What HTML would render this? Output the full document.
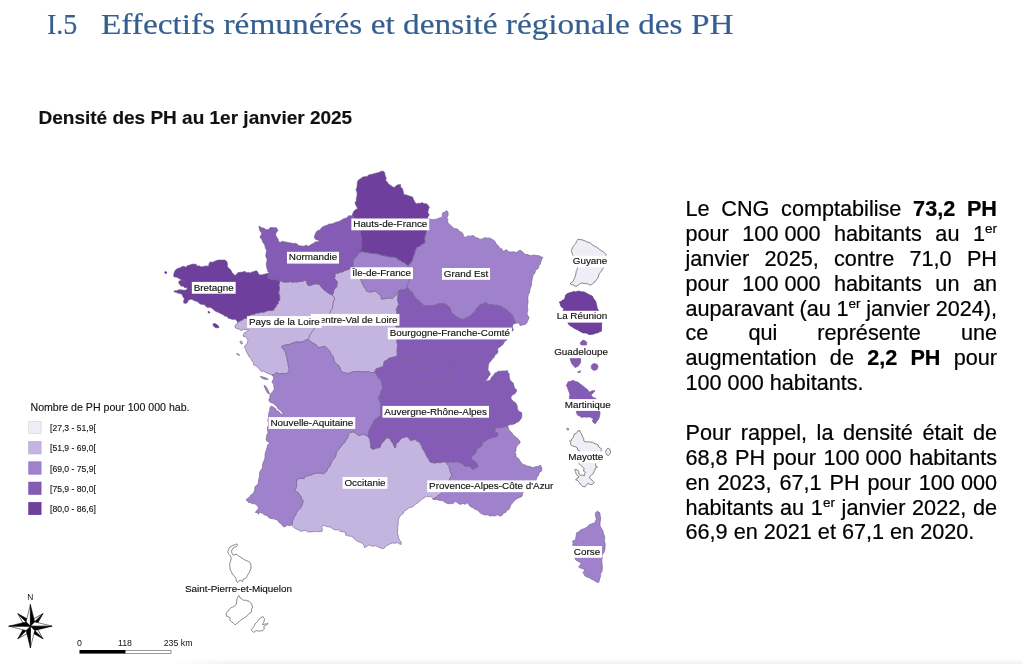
<!DOCTYPE html>
<html lang="fr"><head><meta charset="utf-8"><title>I.5 Effectifs rémunérés et densité régionale des PH</title>
<style>
html,body{margin:0;padding:0;background:#fff;}
body{width:1023px;height:664px;position:relative;overflow:hidden;font-family:"Liberation Sans",Arial,sans-serif;}
h1{position:absolute;left:0;top:0;margin:0;font-family:"Liberation Serif","Times New Roman",serif;font-weight:normal;font-size:29.5px;line-height:40px;color:#365f91;white-space:pre;}
h1 span{position:absolute;top:3.7px;}
h1 .n{left:46.5px;transform-origin:0 0;transform:scaleX(0.95);-webkit-text-stroke:0.2px #365f91;}
h1 .t{left:100.5px;transform-origin:0 0;transform:scaleX(1.13);-webkit-text-stroke:0.2px #365f91;}
h2{position:absolute;left:38.5px;top:103px;margin:0;font-size:19px;line-height:30px;font-weight:bold;color:#111;white-space:nowrap;-webkit-text-stroke:0.15px #111;}
.txt{position:absolute;left:685.5px;top:197.0px;width:311.5px;font-size:21.65px;line-height:24.88px;color:#000;-webkit-text-stroke:0.22px #000;}
.txt div{text-align:justify;text-align-last:justify;white-space:nowrap;height:24.88px;}
.txt div.l{text-align-last:left;}
.txt .nb{display:inline-block;white-space:pre;}
.txt sup{font-size:13.5px;line-height:0;vertical-align:baseline;position:relative;top:-8px;}
.shadow{position:absolute;left:170px;right:0;bottom:0;height:6px;background:linear-gradient(to bottom,rgba(0,0,0,0),rgba(0,0,0,0.05));-webkit-mask-image:linear-gradient(to right,transparent,#000 60px);mask-image:linear-gradient(to right,transparent,#000 60px);}
</style></head><body>
<h1><span class="n">I.5</span><span class="t">Effectifs rémunérés et densité régionale des PH</span></h1>
<h2>Densité des PH au 1er janvier 2025</h2>
<svg width="1023" height="664" viewBox="0 0 1023 664" style="position:absolute;left:0;top:0">
<g stroke="#6f6088" stroke-width="0.6" stroke-linejoin="round">
<polygon fill="#c3b4e0" points="352.8,267.6 354,269.44 354.8,271.52 356.93,272.76 357.5,275 358.85,276.85 360.44,278.55 361.25,280.75 361.9,282.51 362.5,284.29 363.75,285.75 364.29,287.57 365.9,288.84 366.25,290.75 368.07,291.55 370,292 372.08,291.8 374.12,291.07 376.25,291.4 377.8,293.34 380,294.5 381.29,296.51 381.25,298.9 383.8,298.93 386.25,298.25 388.33,298.09 390.42,298.09 392.5,298.25 394.34,296.58 396.25,295 396.88,292.51 398.75,290.75 398.39,292.93 398.01,295.11 397.96,297.33 397.5,299.5 398.14,302 398.75,304.5 397.76,306.09 397.08,307.83 396.25,309.5 396.94,311.31 396.9,313.25 396.56,315.59 396.1,317.92 395.95,320.27 395.52,322.6 396,325 396.27,327.52 397.04,329.96 397.23,332.48 397.5,335 396.79,336.81 397.27,338.75 396.9,340.6 397.11,343.06 397.79,345.5 397.3,348 397.08,350.34 397.07,352.68 397.5,355 396.25,356.25 394.23,357.05 392.07,357.38 390,358 388.05,358.94 386.4,360.4 384.4,361.25 383.87,363.17 383.62,365.18 382.5,366.9 380.4,367.46 378.35,368.19 376.25,368.75 375.3,370.41 375,372.3 372.8,372.48 370.6,372.6 368.46,371.5 366.25,371.9 363.76,371.57 361.19,372.16 358.75,371.25 356.71,371.88 354.56,371.48 352.5,371.9 350.9,372.71 349.16,373.12 347.5,373.75 345.34,372.8 343,372.5 341.59,371.08 340.39,369.54 340,367.5 338.65,365.52 336.64,364.19 335,362.5 333.94,360.28 333.46,357.86 332.5,355.6 330.88,353.98 330.03,351.84 328.75,350 326.93,348.19 325,346.5 322.86,346.75 320.79,347.31 318.75,348 317.65,346.38 316.25,345 314.62,343.91 312.84,343.05 311.25,341.9 309.64,340.92 308.3,339.6 309.2,337.7 309.45,335.55 310.6,333.75 311.58,332.04 312.98,330.59 313.75,328.75 315.64,327.01 318,326 319.68,324.68 321.12,323.12 322.81,321.81 324,320 325.33,318.01 327.41,316.63 328.77,314.67 330,312.6 330.96,310.26 332.5,308.25 332.71,305.75 333,303.25 333.75,300.76 334.4,298.25 333.55,296.49 332,295.3 333.29,293.18 333.75,290.75 334.29,288.93 335.83,287.84 336.9,286.4 336.83,284.15 337.5,282 335.89,280.17 334.4,278.25 335,276.42 335,274.5 336.34,273.02 338.66,273.48 340,272 342.3,272 344.21,270.8 346.25,270 348.53,269.47 350.65,268.49"/>
<polygon fill="#c3b4e0" points="279.5,280.6 281.69,281.35 283.86,282.17 286.25,281.9 288.2,282.18 290,281.4 292.44,282.32 295,281.83 297.5,282 300.01,281.36 302.69,281.36 305,280 306.75,281.59 307.02,284.14 308.75,285.75 310.87,285.25 312.92,284.52 315,283.9 317.53,283.96 320,284.5 320.67,286.19 321.73,287.62 323,288.9 324.45,290.19 326.05,291.3 327.5,292.6 328.93,293.61 330.76,293.96 332,295.3 333.55,296.49 334.4,298.25 333.75,300.76 333,303.25 332.71,305.75 332.5,308.25 330.96,310.26 330,312.6 328.77,314.67 327.41,316.63 325.33,318.01 324,320 322.81,321.81 321.12,323.12 319.68,324.68 318,326 315.64,327.01 313.75,328.75 312.98,330.59 311.58,332.04 310.6,333.75 309.45,335.55 309.2,337.7 308.3,339.6 306.2,339.93 304.38,341 302.5,341.9 300.42,342.04 298.33,342.11 296.25,341.9 294.12,342.61 291.98,343.3 290,344.4 287.87,344.39 285.86,344.94 283.84,345.43 281.9,346.25 282.32,348.3 284.27,349.4 285,351.25 285.86,352.83 285.73,354.79 286.9,356.25 287.09,358.36 287.22,360.49 288,362.5 288.18,365.05 288.8,367.52 289.4,370 288.5,371.53 287.5,373 285.49,373.89 283.32,373.42 281.25,373.75 278.59,373.75 276.25,372.5 274.43,374.37 271.9,375 269.67,374.08 267.5,373 265.5,372.57 263.95,370.99 261.56,371.54 260,370 258.79,368.3 257.37,366.88 255.75,365.7 253.75,365 253.53,362.67 251.95,360.89 251.25,358.75 249.29,357.02 248.1,354.76 246.9,352.5 245.93,350.9 245.64,348.96 244.4,347.5 245.12,345.52 246.9,344.4 247.46,342.2 248,340 246.69,338.27 245.26,336.71 243,336.25 243.33,334.99 243.75,333.75 245.16,332.16 247.22,331.43 248.75,330 246.21,329.71 243.67,329.41 241.25,330.6 239.35,329.19 237.01,328.69 235,327.5 235.02,325.3 237.16,324.06 237.5,322 239.26,321.57 240.79,320.57 242.5,320 243.89,318.6 245.83,318.33 247.5,317.5 249.12,316.39 250.45,314.82 252.5,314.4 254.62,314.08 256.58,313.06 258.75,313 261.21,312.26 263.86,312.3 266.25,311.25 268.68,310.42 271.28,310.61 273.75,310 274.32,308.2 276.06,306.99 276.25,305 278.07,303.76 278.21,301.26 280,300 279.5,297.93 279.77,295.71 278.75,293.75 278.8,291.65 279.32,289.6 279.4,287.5 278.85,285.19 279.47,282.9"/>
<polygon fill="#c3b4e0" points="433,499.4 432.14,497.57 430.6,496.25 429.05,496.93 427.5,496.25 425.63,496.67 424.22,498.02 422.5,498.75 420.92,500.26 419.24,501.67 417.5,503 415.71,504.15 414.17,505.6 412.5,506.9 410.61,507.41 408.75,508 407.19,509.24 405.57,510.4 403.75,511.25 403.29,513.51 401.48,514.75 400,516.25 399.1,517.82 398.49,519.51 398,521.25 398.44,523.35 397.83,525.42 397.75,527.5 397.75,530 397.4,532.52 398,535 398.63,537.52 399.4,540 401.24,541.82 401.25,544.4 399.2,543.8 397.5,542.5 395.05,543.22 392.5,543 390.33,543.66 388.41,544.92 386.25,545.6 385,547.5 382.91,548.73 380.6,548 378.76,547.15 376.93,546.26 375,545.6 372.82,546.39 370.8,545.59 368.75,545 366.76,546.57 364.4,547.5 363.92,545.23 362.65,543.57 360.6,542.5 358.39,541.63 356.25,540.6 354.82,539.31 353.26,538.12 352.5,536.25 349.95,536.34 347.5,535.6 345.6,535.03 345.65,532.47 343.75,531.9 341.86,531.68 340,531.25 338.3,529.68 336,530 334.03,529.46 332.22,528.53 330.59,527.16 328.5,526.9 326.61,526.56 324.85,525.67 322.9,525.6 321.73,527.37 322.38,529.36 322.25,531.25 320.17,531.56 318.08,531.68 316,531.25 313.52,531.71 311,531.9 308.3,532.01 306,530.6 304.1,530.51 302.27,531.02 300.4,531.25 298.3,529.82 296,528.75 294.24,527.84 292.88,526.47 291.6,525 292.36,523.2 292.25,521.25 293.08,519.58 293.69,517.8 294.75,516.25 295.79,514.36 296.62,512.35 297.9,510.6 299.38,508.98 301,507.5 301.65,505.64 302.5,503.85 302.9,501.9 302.72,499.86 301.21,498.28 301,496.25 299.47,494.84 298.5,493 296.55,491.92 294.75,490.6 295.62,488.82 296.28,486.96 296.6,485 296.47,482.8 296.76,480.69 297.9,478.75 299.97,478.48 302.03,478.37 304.1,478.75 304.75,476.25 306.89,476.13 308.88,475.25 311,475 313.03,474.15 315.07,473.37 317.25,473 319.36,473.06 321.46,473.12 323.5,473.75 325,472.5 326.62,471.23 327.36,469.26 328.34,467.49 330,466.25 330.62,464.21 331.38,462.25 332.48,460.46 333.75,458.75 335.25,456.93 335.95,454.8 336.25,452.5 337.39,450.85 338.69,449.32 339.96,447.78 341.25,446.25 341.96,444.34 343.86,443.45 345,441.9 345.87,439.95 347.27,438.28 348,436.25 348.7,434.22 350,432.5 352.15,431.86 354.4,431.9 355.65,433.37 357.25,434.42 358.75,435.6 361.18,434.69 363.75,434.4 365.82,435.35 368,436 368.5,437.81 370.01,439.24 370,441.25 370.46,443.31 370.67,445.39 370.6,447.5 371.78,448.22 372.5,449.4 374.96,448.63 377.42,447.83 380,447.5 380.58,445.71 381.17,443.92 382.5,442.5 383.88,441.11 385.08,439.56 386.25,438 388.24,437.79 390,438.75 390.78,440.55 391.98,442.09 393,443.75 394.06,445.85 395,448 395.82,446.16 396.01,444.04 397.5,442.5 399.04,441.54 399.65,439.65 401.25,438.75 402.73,437.55 404.78,437.47 406.25,436.25 407.89,437.51 409.43,438.87 410.6,440.6 412.78,439.94 415,439.4 416.47,440.75 418.24,441.62 420,442.5 420.56,444.56 422,446.19 422.17,448.45 423.75,450 424.53,451.95 425.84,453.64 426.33,455.74 427.5,457.5 428.98,459.57 430,461.9 432.46,462.61 435,463 437.47,462.43 440.07,462.77 442.5,461.9 444.8,461.85 447,462.5 447.25,464.57 448.82,466.12 449.37,468.08 450,470 450.35,471.78 450.9,473.47 451.9,475 451.27,476.77 449.69,478.06 449.4,480 448.53,482.46 447.7,484.94 446,487 444.69,489.22 443.13,491.23 441.25,493 439.85,494.55 438.05,495.63 436.5,497 434.69,498.11"/>
<polygon fill="#9f82cb" points="271.9,375 273.33,376.63 273.75,378.75 272.59,380.51 271.9,382.5 273.71,383.94 273.75,386.25 274.35,388.9 273,391.25 271.45,393.09 270,395 269.8,397.61 268.75,400 270.01,402.26 272.5,403 274.13,404 275.44,405.41 277,406.5 277.75,408.52 279.42,409.72 281,411 282.57,413 283,415.5 281.21,414.04 279.5,412.5 278.36,410.98 276.13,410.53 275.5,408.5 273.56,407.16 271.5,406 269.8,407.5 269.84,410.05 268.94,412.47 268.59,414.97 268.5,417.5 267.76,419.96 268.31,422.52 268.57,425.05 267.27,427.47 267.5,430 268.1,432.65 266.8,435.01 266.38,437.5 266,440 267.75,441.65 270,442.5 268.94,443.94 267.5,445 267.07,447.55 266.31,450.01 265.4,452.44 265,455 264.98,457.67 264.25,460.15 263.15,462.54 262.5,465.04 262.44,467.71 261,470 259.57,472.3 259.62,474.97 259.19,477.52 258.5,480 258.35,482.23 257.86,484.32 255.84,485.85 254.78,487.73 254.75,490 253.91,492.02 252.76,493.82 250.82,495.04 249.75,496.9 247.64,498.17 246,500 247.41,501.09 248.5,502.5 250.51,502.71 252.25,503.75 254.22,503.55 255.75,504.54 257.25,505.6 258.22,507.04 258.5,508.75 256.69,510.41 255.4,512.5 257.44,512.65 258.5,514.4 258.75,512.75 260.4,512.5 262.69,513.54 264.75,515 266.85,515.48 268.37,517.14 270.09,518.38 272.25,518.75 274.2,518.85 275.99,519.69 277.9,520 278.06,521.46 279.1,522.5 280.85,523.68 282.26,525.2 283.5,526.9 285.63,526.45 287.25,525 289.43,525.71 291.6,525 292.36,523.2 292.25,521.25 293.08,519.58 293.69,517.8 294.75,516.25 295.79,514.36 296.62,512.35 297.9,510.6 299.38,508.98 301,507.5 301.65,505.64 302.5,503.85 302.9,501.9 302.72,499.86 301.21,498.28 301,496.25 299.47,494.84 298.5,493 296.55,491.92 294.75,490.6 295.62,488.82 296.28,486.96 296.6,485 296.47,482.8 296.76,480.69 297.9,478.75 299.97,478.48 302.03,478.37 304.1,478.75 304.75,476.25 306.89,476.13 308.88,475.25 311,475 313.03,474.15 315.07,473.37 317.25,473 319.36,473.06 321.46,473.12 323.5,473.75 325,472.5 326.62,471.23 327.36,469.26 328.34,467.49 330,466.25 330.62,464.21 331.38,462.25 332.48,460.46 333.75,458.75 335.25,456.93 335.95,454.8 336.25,452.5 337.39,450.85 338.69,449.32 339.96,447.78 341.25,446.25 341.96,444.34 343.86,443.45 345,441.9 345.87,439.95 347.27,438.28 348,436.25 348.7,434.22 350,432.5 352.15,431.86 354.4,431.9 355.65,433.37 357.25,434.42 358.75,435.6 361.18,434.69 363.75,434.4 365.82,435.35 368,436 368.69,433.67 368.75,431.25 369.44,429.51 370.96,428.19 371.25,426.25 372.01,424.54 373.5,423.21 373.75,421.25 374.9,419.69 376.53,418.69 378,417.5 380,416.25 380.78,414.22 380.35,412.08 380.6,410 380.29,407.42 381.25,405 380.49,402.89 379.66,400.8 378.75,398.75 378.84,396.89 379.84,395.36 380.6,393.75 380.79,391.53 382.33,389.72 382.5,387.5 382.2,385.39 381.73,383.32 381.25,381.25 380.45,379.24 378.6,378.03 377.5,376.25 376.54,374.09 375,372.3 372.8,372.48 370.6,372.6 368.46,371.5 366.25,371.9 363.76,371.57 361.19,372.16 358.75,371.25 356.71,371.88 354.56,371.48 352.5,371.9 350.9,372.71 349.16,373.12 347.5,373.75 345.34,372.8 343,372.5 341.59,371.08 340.39,369.54 340,367.5 338.65,365.52 336.64,364.19 335,362.5 333.94,360.28 333.46,357.86 332.5,355.6 330.88,353.98 330.03,351.84 328.75,350 326.93,348.19 325,346.5 322.86,346.75 320.79,347.31 318.75,348 317.65,346.38 316.25,345 314.62,343.91 312.84,343.05 311.25,341.9 309.64,340.92 308.3,339.6 306.2,339.93 304.38,341 302.5,341.9 300.42,342.04 298.33,342.11 296.25,341.9 294.12,342.61 291.98,343.3 290,344.4 287.87,344.39 285.86,344.94 283.84,345.43 281.9,346.25 282.32,348.3 284.27,349.4 285,351.25 285.86,352.83 285.73,354.79 286.9,356.25 287.09,358.36 287.22,360.49 288,362.5 288.18,365.05 288.8,367.52 289.4,370 288.5,371.53 287.5,373 285.49,373.89 283.32,373.42 281.25,373.75 278.59,373.75 276.25,372.5 274.43,374.37"/>
<polygon fill="#9f82cb" points="360,252 362.57,251.53 365.05,252.05 367.52,252.52 370,253 372.48,253.45 375.01,253.43 377.5,253.75 379.94,254.6 382.37,255.53 384.96,255.78 387.5,256.25 389.61,257.08 391.88,256.85 394.08,257.05 396.25,257.5 397.98,259.49 400.49,260.4 402.5,262 404.63,262.74 406.26,264.26 408,265.6 408.6,267.92 409.62,270.12 410,272.5 409.4,274.97 409.54,277.49 409.4,280 408.94,282.41 407.5,284.4 407.04,286.3 408,288 406.24,288.15 405,289.4 402.94,289.97 400.78,290.05 398.75,290.75 396.88,292.51 396.25,295 394.34,296.58 392.5,298.25 390.42,298.09 388.33,298.09 386.25,298.25 383.8,298.93 381.25,298.9 381.29,296.51 380,294.5 377.8,293.34 376.25,291.4 374.12,291.07 372.08,291.8 370,292 368.07,291.55 366.25,290.75 365.9,288.84 364.29,287.57 363.75,285.75 362.5,284.29 361.9,282.51 361.25,280.75 360.44,278.55 358.85,276.85 357.5,275 356.93,272.76 354.8,271.52 354,269.44 352.8,267.6 352.82,265.67 353,263.75 352.86,261.49 353.75,259.4 355.06,257.98 356.36,256.56 357.5,255 358.44,253.25"/>
<polygon fill="#9f82cb" points="428.8,219.2 430.43,219.15 432,219.6 433.89,219.7 435.69,219.16 437.5,218.75 439.17,217.93 441.06,217.54 442.5,216.25 442.16,214.3 443,212.5 444.96,212.13 446.25,210.6 448,211.9 448.15,213.87 447.93,215.76 446.9,217.5 447.86,219.48 447.59,221.83 448.75,223.75 450.59,225.37 452.5,226.9 454.01,228.56 456.25,228.75 458.17,229.4 459.22,231.43 461.25,231.9 462.99,233.54 463.37,236.24 465.6,237.5 467.53,235.92 470,236.25 471.85,235.76 473.75,235.6 475.44,237.51 477.93,238.12 480,239.4 481.71,238.89 483.51,238.59 485,237.5 487.04,238.15 489.25,237.9 491.25,238.75 493.15,239.97 495,241.25 495.8,243.25 497.16,244.84 498.75,246.25 499.72,248.13 502.04,248.99 502.5,251.25 504.63,250.83 506.25,249.4 507.59,250.89 509.14,251.95 511.25,251.9 513.81,251.72 516.25,252.5 518.18,251.33 520,250 521.99,251.36 523.75,253 525.05,254.59 527.09,254.31 528.75,255 531.2,255.8 533.78,254.98 536.25,255.6 538.7,255.51 540.82,256.63 543,257.5 541.75,258.95 541.33,260.8 540.6,262.5 540.35,264.3 538.79,265.62 538.75,267.5 537.47,269.14 535.46,270.24 535,272.5 534.34,274.02 533,275 532.8,277.11 532.12,279.14 531.9,281.25 531.45,283.33 531.47,285.51 530.6,287.5 529.83,289.54 529.85,291.81 528.75,293.75 528.07,295.78 527.75,297.86 528,300 528.06,302.52 527.57,304.99 527.5,307.5 527.87,309.64 527.56,311.71 526.9,313.75 527.87,315.67 529,317.5 528.41,319.44 527.5,321.25 526.69,323.17 525,324.4 522.52,325.08 520,325.6 519.46,323.61 517.5,323 515.5,323.3 515.05,321.2 514.08,319.33 513,317.5 512.51,315.45 511.25,313.75 509.32,312.6 507.69,311.12 506.25,309.4 504.54,308.43 502.53,307.91 501.25,306.25 498.66,305.99 496.25,305 494.17,305.72 492.08,304.28 490,305 488.19,304.46 486.69,303.28 485,302.5 483.43,304.04 481.25,304.4 479.31,305.53 477.8,307.17 476.25,308.75 475.44,310.92 473.75,312.5 472.37,313.62 471.06,314.81 470,316.25 468.09,316.96 466.17,317.65 464.5,318.92 462.5,319.4 460.8,318.86 459.02,318.53 457.5,317.5 455.88,316.19 454.26,314.87 452.5,313.75 451.18,311.86 450.56,309.69 450,307.5 447.94,306.18 446.25,304.4 444.19,303.98 442.12,303.6 440,303.75 437.76,303.84 435.83,304.96 433.75,305.6 431.25,305.63 428.75,305.75 426.25,305.62 423.75,305.6 422.19,303.67 420,302.5 418.74,300.42 416.72,299.11 415,297.5 414.21,295.81 412.95,294.36 412.5,292.5 410.76,291.24 409.36,289.64 408,288 407.04,286.3 407.5,284.4 408.94,282.41 409.4,280 409.54,277.49 409.4,274.97 410,272.5 409.62,270.12 408.6,267.92 408,265.6 409.69,264.1 410.84,262.12 412.5,260.6 412.57,258.66 413.23,256.84 413.75,255 414.75,253.25 414.93,251.23 415.88,249.46 416.25,247.5 418.14,246.91 420,246.25 421.23,244.42 423.29,243.69 425,242.5 424.83,240.6 424.4,238.75 424.97,236.24 425.77,233.78 426.25,231.25 426.23,229.08 427.19,227.1 427.5,225 428.37,223.17 428.48,221.16"/>
<polygon fill="#9f82cb" points="507.5,425.6 508.34,427.48 508.85,429.51 510,431.25 511.97,432.61 513.01,434.9 515,436.25 516.13,437.62 517.81,438.44 518.75,440 520.12,441.19 520,443 518.24,444.43 516.9,446.25 515.95,448.24 516.09,450.56 515,452.5 516.04,454.01 515.78,456.02 516.9,457.5 518.79,458.78 519.83,460.8 521.25,462.5 522.82,464.6 525.35,465.11 527.5,466.25 529.66,466.31 531.63,467.28 533.75,467.5 535.78,466.52 538.16,466.45 540,465 541.52,466.95 541.9,469.4 541.16,471.44 538.94,472.65 538.75,475 537.56,476.49 536.58,478.08 536.25,480 534.51,481.32 533.79,483.69 531.69,484.63 530,486 528.49,487.54 527.15,489.24 524.79,489.96 523.51,491.73 522.5,493.75 522.06,496.16 520,497.5 518.11,497.88 516.63,499.08 515,500 513.78,501.52 512.5,503 510.77,504.98 510,507.5 508.88,509.38 506.84,510.34 505.89,512.39 503.41,512.91 502.5,515 500.12,516.21 497.37,514.69 495,516 492.49,515.83 489.94,516.07 487.54,514.83 485,515 482.79,514.25 480.7,513.32 479.03,511.76 477.5,510 475.1,509.51 473.24,507.84 471,507 469.12,505.28 468,503 466.32,503.31 465,504.4 463.01,503.24 460.77,504.53 458.75,503.75 456.96,502.37 455,501.25 454.02,502.77 452.5,503.75 450.43,503.4 448.27,503.76 446.25,503 444.31,501.82 442.41,500.55 440,500.6 437.74,499.76 435.36,499.62 433,499.4 434.69,498.11 436.5,497 438.05,495.63 439.85,494.55 441.25,493 443.13,491.23 444.69,489.22 446,487 447.7,484.94 448.53,482.46 449.4,480 449.69,478.06 451.27,476.77 451.9,475 450.9,473.47 450.35,471.78 450,470 449.37,468.08 448.82,466.12 447.25,464.57 447,462.5 448.82,462.21 450.63,461.74 452.5,461.9 454.5,462.28 456.25,461.25 458.09,461.99 460,462.5 462.1,463.17 463.41,464.89 465,466.25 467.5,465.9 470,466.25 471.45,468.34 473.75,469.4 475.65,467.77 478,466.9 477.16,464.93 476.25,463 475.21,461.41 473.27,461.12 471.9,460 471.53,458.13 471.25,456.25 473.29,455.25 475,453.75 475.96,451.99 476.25,450 477.44,448.6 478.97,447.69 480.6,446.9 482.13,445.23 482.5,443 483.77,441.25 485.91,440.71 487.5,439.4 489.06,438.48 490.81,438.06 492.5,437.5 495.02,436.94 497.5,436.25 497.57,434.6 498,433 495.82,432.37 494.4,430.6 495.37,429.19 495.6,427.5 497.9,427.86 500.2,427.7 502.5,427.5 504.07,426.6 506.08,426.87"/>
<polygon fill="#855cb5" points="352.5,214.4 351.28,216.12 348.93,215.6 347.5,216.9 346.15,218.37 344.05,218.4 342.5,219.5 340.71,220.46 338.97,221.56 336.94,221.92 335,222.5 333.25,223.49 331.32,223.96 329.21,223.88 327.5,225 325.26,225.68 323.11,226.53 321.25,228 320.19,230.08 317.76,230.4 316.25,231.9 315.29,234.06 314.4,236.25 314.55,238 315.6,239.4 317.93,240.03 320,241.25 317.53,241.78 315,241.9 313.98,243.13 312.5,243.75 310.51,244.83 308.75,246.25 306.25,245.26 303.75,246.25 301.58,245.92 299.37,245.73 297.5,244.4 295.6,243.13 293.31,243.57 291.25,243 289.15,242.73 287.09,242.2 285,241.9 282.4,241.37 280,242.5 278.46,240.91 278,238.75 276.41,236.79 275.6,234.4 276.48,232.3 278,230.6 277.12,229.05 276.25,227.5 274.38,227.85 272.5,227.5 270.18,227.57 268.75,229.4 265.98,229.65 263.75,228 261.89,227.98 260.43,226.78 258.75,226.25 259.22,227.8 259.4,229.4 260.04,231.12 261.25,232.5 261.56,234.69 260,236.25 260.51,238.08 261.89,239.47 262.5,241.25 263.16,243 264.56,244.39 265,246.25 265.37,248.34 266.54,250.28 266.25,252.5 265.77,254.66 265.81,256.76 266.9,258.75 267.07,260.87 266.36,262.91 266.25,265 266.73,267.54 267.5,270 267.91,271.84 269.4,273 268.42,274.98 267.5,277 268.52,278.2 270,278.75 271.96,279.38 274,279.6 275.82,279.98 277.65,280.37 279.5,280.6 281.69,281.35 283.86,282.17 286.25,281.9 288.2,282.18 290,281.4 292.44,282.32 295,281.83 297.5,282 300.01,281.36 302.69,281.36 305,280 306.75,281.59 307.02,284.14 308.75,285.75 310.87,285.25 312.92,284.52 315,283.9 317.53,283.96 320,284.5 320.67,286.19 321.73,287.62 323,288.9 324.45,290.19 326.05,291.3 327.5,292.6 328.93,293.61 330.76,293.96 332,295.3 333.29,293.18 333.75,290.75 334.29,288.93 335.83,287.84 336.9,286.4 336.83,284.15 337.5,282 335.89,280.17 334.4,278.25 335,276.42 335,274.5 336.34,273.02 338.66,273.48 340,272 342.3,272 344.21,270.8 346.25,270 348.53,269.47 350.65,268.49 352.8,267.6 352.82,265.67 353,263.75 352.86,261.49 353.75,259.4 355.06,257.98 356.36,256.56 357.5,255 358.44,253.25 360,252 360.93,249.64 362.3,247.5 361.62,245.03 361.31,242.54 361.9,240 361.72,237.63 360.94,235.34 360.76,232.97 360.6,230.6 359.47,228.54 358.94,226.28 358.5,224 356.9,222.5 356.81,220.16 355.5,218.5 353.66,216.7"/>
<polygon fill="#855cb5" points="515.5,323.3 513.31,324.07 512.5,326.25 512.68,328.21 513.5,330 512.19,331.21 511.03,332.54 510,334 509.38,335.78 508.32,337.33 507.5,339 506.26,340.51 504.45,341.54 503.65,343.42 502.5,345 501.06,346.09 499.61,347.17 498,348 497.65,349.92 498.05,351.98 496.9,353.75 494.98,355.02 494.18,357.27 492.5,358.75 491.35,360.49 489.85,361.97 488.75,363.75 488.33,365.81 488.14,367.9 488,370 486.25,371.9 485.33,373.71 483.75,375 481.89,375.68 480.32,376.83 478.75,378 477.21,376.8 475.5,375.87 473.75,375 472.46,375.9 471.25,376.9 469.86,375.11 468.37,373.46 466.25,372.5 465.01,370.85 463,370.15 461.56,368.76 460,367.5 458.19,366.78 456.28,367.02 454.4,366.9 453.39,368.79 452.85,370.95 451.25,372.5 450.76,375.03 450.37,377.59 449.04,379.92 448.75,382.5 447.33,380.96 446.67,378.85 445,377.5 442.48,377.33 439.96,377.21 437.5,378 436.79,379.95 435.55,381.46 433.75,382.5 431.55,382.54 429.4,381.9 427.17,382.37 425,381.9 423.88,379.87 422.5,378 423.68,376.44 425,375 425.65,373.13 425.16,371.27 425,369.4 423.53,368.24 421.59,368.35 420,367.5 419.23,365.8 418.3,364.18 417.5,362.5 416.33,360.93 415.19,359.34 413.75,358 411.65,359.37 410,361.25 407.48,360.94 405.03,360.22 402.5,360 400.97,358.57 399.31,357.31 397.5,356.25 397.5,355 397.07,352.68 397.08,350.34 397.3,348 397.79,345.5 397.11,343.06 396.9,340.6 397.27,338.75 396.79,336.81 397.5,335 397.23,332.48 397.04,329.96 396.27,327.52 396,325 395.52,322.6 395.95,320.27 396.1,317.92 396.56,315.59 396.9,313.25 396.94,311.31 396.25,309.5 397.08,307.83 397.76,306.09 398.75,304.5 398.14,302 397.5,299.5 397.96,297.33 398.01,295.11 398.39,292.93 398.75,290.75 400.78,290.05 402.94,289.97 405,289.4 406.24,288.15 408,288 409.36,289.64 410.76,291.24 412.5,292.5 412.95,294.36 414.21,295.81 415,297.5 416.72,299.11 418.74,300.42 420,302.5 422.19,303.67 423.75,305.6 426.25,305.62 428.75,305.75 431.25,305.63 433.75,305.6 435.83,304.96 437.76,303.84 440,303.75 442.12,303.6 444.19,303.98 446.25,304.4 447.94,306.18 450,307.5 450.56,309.69 451.18,311.86 452.5,313.75 454.26,314.87 455.88,316.19 457.5,317.5 459.02,318.53 460.8,318.86 462.5,319.4 464.5,318.92 466.17,317.65 468.09,316.96 470,316.25 471.06,314.81 472.37,313.62 473.75,312.5 475.44,310.92 476.25,308.75 477.8,307.17 479.31,305.53 481.25,304.4 483.43,304.04 485,302.5 486.69,303.28 488.19,304.46 490,305 492.08,304.28 494.17,305.72 496.25,305 498.66,305.99 501.25,306.25 502.53,307.91 504.54,308.43 506.25,309.4 507.69,311.12 509.32,312.6 511.25,313.75 512.51,315.45 513,317.5 514.08,319.33 515.05,321.2"/>
<polygon fill="#855cb5" points="488,370 489.04,371.47 490,373 490.25,375.03 488.54,376.28 488,378 486.56,379.68 485,381.25 487.47,380.68 490,380.6 490.9,378.23 492.5,376.25 493.8,374.67 495,373 496.72,372.57 498.09,371.14 500,371.25 502.49,370.91 505.02,371.05 507.5,370.6 507.72,372.62 509.4,373.75 509.06,375.89 509.56,377.94 510,380 511.56,381.44 513.12,382.87 513.75,385 514.22,387.03 515.18,388.76 516.9,390 516.08,391.94 515,393.75 512.96,394.75 511.25,396.25 510.92,398.24 511.9,400 513.36,401.24 515.02,402.25 516.25,403.75 517.26,406.15 517.5,408.75 518.28,410.88 520.2,411.82 521.9,413 521.87,415.5 521.58,417.92 520,420 518.65,421.67 516.64,422.46 515,423.75 512.53,424.5 509.96,424.83 507.5,425.6 506.08,426.87 504.07,426.6 502.5,427.5 500.2,427.7 497.9,427.86 495.6,427.5 495.37,429.19 494.4,430.6 495.82,432.37 498,433 497.57,434.6 497.5,436.25 495.02,436.94 492.5,437.5 490.81,438.06 489.06,438.48 487.5,439.4 485.91,440.71 483.77,441.25 482.5,443 482.13,445.23 480.6,446.9 478.97,447.69 477.44,448.6 476.25,450 475.96,451.99 475,453.75 473.29,455.25 471.25,456.25 471.53,458.13 471.9,460 473.27,461.12 475.21,461.41 476.25,463 477.16,464.93 478,466.9 475.65,467.77 473.75,469.4 471.45,468.34 470,466.25 467.5,465.9 465,466.25 463.41,464.89 462.1,463.17 460,462.5 458.09,461.99 456.25,461.25 454.5,462.28 452.5,461.9 450.63,461.74 448.82,462.21 447,462.5 444.8,461.85 442.5,461.9 440.07,462.77 437.47,462.43 435,463 432.46,462.61 430,461.9 428.98,459.57 427.5,457.5 426.33,455.74 425.84,453.64 424.53,451.95 423.75,450 422.17,448.45 422,446.19 420.56,444.56 420,442.5 418.24,441.62 416.47,440.75 415,439.4 412.78,439.94 410.6,440.6 409.43,438.87 407.89,437.51 406.25,436.25 404.78,437.47 402.73,437.55 401.25,438.75 399.65,439.65 399.04,441.54 397.5,442.5 396.01,444.04 395.82,446.16 395,448 394.06,445.85 393,443.75 391.98,442.09 390.78,440.55 390,438.75 388.24,437.79 386.25,438 385.08,439.56 383.88,441.11 382.5,442.5 381.17,443.92 380.58,445.71 380,447.5 377.42,447.83 374.96,448.63 372.5,449.4 371.78,448.22 370.6,447.5 370.67,445.39 370.46,443.31 370,441.25 370.01,439.24 368.5,437.81 368,436 368.69,433.67 368.75,431.25 369.44,429.51 370.96,428.19 371.25,426.25 372.01,424.54 373.5,423.21 373.75,421.25 374.9,419.69 376.53,418.69 378,417.5 380,416.25 380.78,414.22 380.35,412.08 380.6,410 380.29,407.42 381.25,405 380.49,402.89 379.66,400.8 378.75,398.75 378.84,396.89 379.84,395.36 380.6,393.75 380.79,391.53 382.33,389.72 382.5,387.5 382.2,385.39 381.73,383.32 381.25,381.25 380.45,379.24 378.6,378.03 377.5,376.25 376.54,374.09 375,372.3 375.3,370.41 376.25,368.75 378.35,368.19 380.4,367.46 382.5,366.9 383.62,365.18 383.87,363.17 384.4,361.25 386.4,360.4 388.05,358.94 390,358 392.07,357.38 394.23,357.05 396.25,356.25 397.5,355 397.5,356.25 399.31,357.31 400.97,358.57 402.5,360 405.03,360.22 407.48,360.94 410,361.25 411.65,359.37 413.75,358 415.19,359.34 416.33,360.93 417.5,362.5 418.3,364.18 419.23,365.8 420,367.5 421.59,368.35 423.53,368.24 425,369.4 425.16,371.27 425.65,373.13 425,375 423.68,376.44 422.5,378 423.88,379.87 425,381.9 427.17,382.37 429.4,381.9 431.55,382.54 433.75,382.5 435.55,381.46 436.79,379.95 437.5,378 439.96,377.21 442.48,377.33 445,377.5 446.67,378.85 447.33,380.96 448.75,382.5 449.04,379.92 450.37,377.59 450.76,375.03 451.25,372.5 452.85,370.95 453.39,368.79 454.4,366.9 456.28,367.02 458.19,366.78 460,367.5 461.56,368.76 463,370.15 465.01,370.85 466.25,372.5 468.37,373.46 469.86,375.11 471.25,376.9 472.46,375.9 473.75,375 475.5,375.87 477.21,376.8 478.75,378 480.32,376.83 481.89,375.68 483.75,375 485.33,373.71 486.25,371.9"/>
<polygon fill="#6f3f9e" points="352.5,214.4 353.09,212.81 353.75,211.25 355.4,209.66 357.5,208.75 356.8,206.75 355.6,205 354.96,202.67 356.37,200.64 356.2,198.38 356.9,196.25 357.08,194.06 356.87,191.88 355.91,189.69 356.9,187.5 357.11,185.17 357.28,182.84 358,180.6 359.39,179.23 361.21,178.39 362.5,176.9 364.81,176.7 367.09,176.39 368.98,174.75 371.25,174.4 373.73,173.7 376.24,173.09 378.75,172.5 381.1,171.28 383.75,171.25 384.79,172.99 385,175 385.74,176.81 386.32,178.63 385.6,180.6 387.26,181.87 388.29,183.78 390,185 391.95,186.14 393.75,187.5 395.61,186.62 396.9,185 398.75,184.67 400.6,184.4 400.71,186.94 402.5,188.75 402.97,190.62 403.6,192.46 403.75,194.4 405.92,194.83 408,195.6 410.24,196.3 412.5,196.9 413.37,199.11 414.4,201.25 415.32,202.5 416.25,203.75 418.31,203.23 420.49,203.3 422.5,202.5 423.93,203.75 425.89,203.62 427.5,204.4 428.18,205.85 429.4,206.9 428.63,209.05 428,211.25 427.91,213.18 429.4,214.4 428.56,216.02 427.5,217.5 428.8,219.2 428.48,221.16 428.37,223.17 427.5,225 427.19,227.1 426.23,229.08 426.25,231.25 425.77,233.78 424.97,236.24 424.4,238.75 424.83,240.6 425,242.5 423.29,243.69 421.23,244.42 420,246.25 418.14,246.91 416.25,247.5 415.88,249.46 414.93,251.23 414.75,253.25 413.75,255 413.23,256.84 412.57,258.66 412.5,260.6 410.84,262.12 409.69,264.1 408,265.6 406.26,264.26 404.63,262.74 402.5,262 400.49,260.4 397.98,259.49 396.25,257.5 394.08,257.05 391.88,256.85 389.61,257.08 387.5,256.25 384.96,255.78 382.37,255.53 379.94,254.6 377.5,253.75 375.01,253.43 372.48,253.45 370,253 367.52,252.52 365.05,252.05 362.57,251.53 360,252 360.93,249.64 362.3,247.5 361.62,245.03 361.31,242.54 361.9,240 361.72,237.63 360.94,235.34 360.76,232.97 360.6,230.6 359.47,228.54 358.94,226.28 358.5,224 356.9,222.5 356.81,220.16 355.5,218.5 353.66,216.7"/>
<polygon fill="#6f3f9e" points="269.4,273 267.84,273.45 266.25,273.75 263.78,274.35 261.32,274.96 258.75,274.4 257.88,272.25 256.25,270.6 254.22,271.53 251.99,271.96 250,273 248.41,272.21 246.34,272.77 245,271.25 242.73,272.03 240.38,272.34 238,272.5 236.58,274.13 235,275.6 233.46,274.09 232,272.5 231.11,270.48 229.7,268.87 228,267.5 227.34,265.68 227.5,263.75 226.84,261.48 225,260 222.81,260.05 220.6,260.01 218.41,260.1 216.25,260.6 214.27,261.55 212.25,262.25 210,261.9 208.88,263.93 208.75,266.25 206.2,265.91 203.72,266.36 201.25,266.9 199.5,265.86 197.5,266.25 196.25,264.4 193.98,264.09 191.78,264.33 189.66,265.1 187.5,265.6 185.93,267.14 183.56,266.21 181.66,266.74 180,268 178.04,268.31 176.43,269.28 175,270.6 174.27,272.47 173.75,274.4 173.64,275.72 174,277 175.81,277.04 177.45,277.62 179,278.5 181.19,279.84 183.35,281.25 186,281.5 184.25,280.92 182.57,279.93 180.6,280.5 178.88,281.16 178.75,283 179.92,284.69 181.25,286.25 183.29,286.12 184.87,288.05 187,287.5 187.12,288.9 186.25,290 183.8,290.21 181.32,289.85 178.85,289.71 176.47,290.87 174,290.8 174.4,292 176.37,292.39 178.15,293.37 180.19,293.51 182,294.4 182.91,296.74 184.4,298.75 183.63,300.81 183.75,303 185.73,303.52 187.5,302.5 188.05,300.39 190,299.4 191.57,299.34 193,300 194.55,300.83 196.25,301.25 198.35,302.27 200.03,304.12 202.5,304.4 204.57,304.79 205.86,306.42 207.5,307.5 210.19,307.37 212.5,308.75 214.33,310.42 216.4,311.69 218.75,312.5 220.91,313.63 223.11,314.67 225,316.25 226.94,316.36 228,318 230.23,318.77 232.5,319.4 234.45,319.26 236.25,320 237.5,322 239.26,321.57 240.79,320.57 242.5,320 243.89,318.6 245.83,318.33 247.5,317.5 249.12,316.39 250.45,314.82 252.5,314.4 254.62,314.08 256.58,313.06 258.75,313 261.21,312.26 263.86,312.3 266.25,311.25 268.68,310.42 271.28,310.61 273.75,310 274.32,308.2 276.06,306.99 276.25,305 278.07,303.76 278.21,301.26 280,300 279.5,297.93 279.77,295.71 278.75,293.75 278.8,291.65 279.32,289.6 279.4,287.5 278.85,285.19 279.47,282.9 279.5,280.6 277.65,280.37 275.82,279.98 274,279.6 271.96,279.38 270,278.75 268.52,278.2 267.5,277 268.42,274.98"/>
</g>
<polygon fill="#6f3f9e" stroke="#5a3585" stroke-width="0.7" stroke-linejoin="round" points="164.5,272 166,271.6 167,273 165.5,273.6"/>
<polygon fill="#6f3f9e" stroke="#5a3585" stroke-width="0.7" stroke-linejoin="round" points="213,324 215,323.6 218,325.5 219,327.5 216,327.8 213.5,326"/>
<polygon fill="#6f3f9e" stroke="#5a3585" stroke-width="0.7" stroke-linejoin="round" points="208,311.5 209.5,311.8 209.8,313 208.3,312.8"/>
<polygon fill="#c3b4e0" stroke="#77688f" stroke-width="0.7" stroke-linejoin="round" points="240.3,341 241.8,341.5 242.6,343.6 241.3,344 240.2,342.6"/>
<polygon fill="#c3b4e0" stroke="#77688f" stroke-width="0.7" stroke-linejoin="round" points="236.5,353.6 238.5,354 239.8,355.2 237.6,355"/>
<polygon fill="#9f82cb" stroke="#77688f" stroke-width="0.7" stroke-linejoin="round" points="260.2,376.4 263,377 266,378 268.3,379.3 265,379.3 262,378.3"/>
<polygon fill="#9f82cb" stroke="#77688f" stroke-width="0.7" stroke-linejoin="round" points="264,385.3 266,386.5 268,390 269.6,394 267.5,393 265.5,389.5"/>
<polygon fill="#9f82cb" stroke="#7a6a99" stroke-width="0.7" stroke-linejoin="round" points="597.5,511.1 598.72,512.08 600,513 600.03,515.1 600.56,517.15 600.6,519.25 600.21,521.32 600.01,523.4 600,525.5 600.66,527.07 601.46,528.55 602.5,529.9 603.13,531.77 603.45,533.74 604.4,535.5 604.91,537.35 604.5,539.27 604.44,541.16 605,543 605.2,545.08 604.95,547.17 605,549.25 604.45,551.06 603.82,552.82 602.5,554.25 601.81,556.08 602.32,558.01 601.78,559.85 601.9,561.75 602.03,563.62 602.35,565.49 602.35,567.37 602.25,569.25 602.01,571.42 600.63,573.28 600.6,575.5 600.26,577.26 599.67,578.95 599.2,580.67 598.75,582.4 596.74,582.07 595,581 593.32,580.03 591.48,579.3 590,578 588.28,577.47 586.61,576.8 585,576 584.04,574.18 583,572.4 584.01,571.16 585,569.9 583.57,569.17 582.13,568.48 580.6,568 579.41,567.77 578.75,566.75 579.69,565.57 580.58,564.36 581.25,563 579.36,562.02 577.5,561 575.6,559.9 575.05,558.22 575.06,556.45 574.91,554.7 574.5,553 574.55,550.94 574.37,548.91 573.5,547 572.79,545.06 573.17,542.94 572.5,541 574.28,540.52 575.6,539.25 575.88,537.53 576.09,535.79 576.43,534.09 576.9,532.4 579.02,531.81 580.43,529.93 582.5,529.25 584.24,528.57 585.97,527.86 587.5,526.75 588.58,525.33 590,524.25 591.65,523.93 593.26,523.28 595,523.6 594.9,522 595.63,520.64 596.25,519.25 595.92,517.18 595.28,515.14 595.6,513 596.39,511.89"/>
<polygon fill="#efedf5" stroke="#555" stroke-width="0.7" stroke-linejoin="round" points="578.1,239 579.53,239.51 581.05,239.6 582.5,240 584.41,240.52 586.15,241.55 588.01,242.23 590,242.5 591.34,244.18 593.15,245.24 595,246.25 596.63,247.24 598.27,248.22 599.53,249.74 601.25,250.6 603.05,251.7 604.64,253.07 606.25,254.4 605.68,256.22 606,258.17 605.5,260 605.27,261.78 604.52,263.42 604.47,265.25 603.75,266.9 603.02,268.41 602.05,269.78 601.25,271.25 600.41,272.5 599.22,273.51 598.75,275 598.37,276.96 597.5,278.75 596.05,280.16 595,281.9 593.56,282.7 592.39,283.83 591.25,285 589.49,284.94 588.03,283.72 586.25,283.75 584.59,283.48 582.92,283.24 581.25,283 579.64,284.17 577.93,285.19 576.25,286.25 574.6,285.85 573.13,284.98 571.51,284.5 570,283.75 571.29,282.54 572.88,281.63 573.75,280 574.4,278.35 575.06,276.69 575.6,275 575.97,273.13 576.25,271.25 577.15,269.92 577.37,268.3 578.1,266.9 577.27,265.2 576.94,263.27 576.26,261.51 575,260 573.89,258.26 573.24,256.31 572.5,254.4 571.83,252.52 571.25,250.6 571.94,249.18 572.57,247.74 573.1,246.25 574.32,244.92 575.64,243.67 576.25,241.9 577.28,240.52"/>
<polygon fill="#6f3f9e" stroke="#5a3585" stroke-width="0.7" stroke-linejoin="round" points="559.4,301.9 560.98,301.56 562.17,300.34 563.75,300 564.72,298.46 565.22,296.75 565.6,295 567.11,293.76 568.85,293 570.73,292.57 572.5,291.9 574.15,291.56 575.9,291.99 577.5,291.25 579.36,291.07 581.01,291.92 582.86,291.77 584.58,292.23 586.25,293 587.74,293.96 589.34,294.69 590.95,295.42 592.5,296.25 593.19,298.13 594.45,299.66 595.6,301.25 596.08,302.9 596.38,304.61 596.9,306.25 597.04,307.97 598,309.4 598.7,311.14 599.76,312.7 600.58,314.37 601.5,316 601.61,318.17 601.92,320.32 601.9,322.5 601.61,324.68 601.45,326.87 601.48,329.07 601.25,331.25 599.59,331.85 598.03,332.73 596.25,333 594.45,333.73 592.6,334.23 590.7,334.43 588.75,334.4 587.05,333.26 585.09,332.89 582.98,332.97 581.25,331.9 579.3,331.07 577.56,329.84 575.62,328.99 573.75,328 572.09,326.78 570.22,325.87 568.75,324.4 567.99,322.69 566.76,321.27 566.2,319.44 565,318 564.31,315.94 562.85,314.2 562.5,312 562.97,310.63 563.75,309.4 563.08,307.82 561.43,307.05 560.6,305.6 560.15,303.7"/>
<polygon fill="#855cb5" stroke="#77559f" stroke-width="0.7" stroke-linejoin="round" points="583.1,340 585.3,341 586.9,342.5 586.25,345 581.25,345 580,343"/>
<polygon fill="#855cb5" stroke="#77559f" stroke-width="0.7" stroke-linejoin="round" points="570,358.1 580.6,358.1 580.6,362.5 578.1,366.25 575,367.5 571.9,363.75 570.6,360.6"/>
<polygon fill="#855cb5" stroke="#77559f" stroke-width="0.7" stroke-linejoin="round" points="594.6,363.4 597.3,364.6 598.1,367 596.8,369.6 594.3,370.4 591.8,369 591.1,366.5 592.3,364.2"/>
<polygon fill="#855cb5" stroke="#77559f" stroke-width="0.7" stroke-linejoin="round" points="577.5,372.2 580.5,370.8 580,372.6"/>
<polygon fill="#855cb5" stroke="#77559f" stroke-width="0.7" stroke-linejoin="round" points="566.25,385.6 567.37,383.87 568,381.9 569.56,381.57 571.08,381.15 572.5,380.4 574.22,380.73 575.72,381.77 577.5,381.9 579.2,383.08 580.76,384.47 582.5,385.6 583.75,386.65 585.02,387.68 586.25,388.75 587.56,389.54 588.3,390.9 589.4,391.9 591.01,391.4 592.5,390.6 593.75,390.88 595,390.6 594.2,391.97 593,393 592.15,393.73 591.25,394.4 591.58,395.8 592.5,396.9 594.12,397.98 596,398.5 596.89,400.07 597.88,401.58 599,403 598.8,405.02 598.9,407.02 599.21,409.01 599.5,411 600.07,412.97 599.75,415 599.41,416.74 598.85,418.4 598.1,420 596.86,421.08 596.18,422.62 595,423.75 593.62,422.63 592.5,421.25 592.94,419.7 593.1,418.1 591.58,417.96 590.25,417.1 588.75,416.9 586.9,417.31 584.97,416.88 583.11,417.11 581.25,417.5 580.25,416.29 578.8,415.75 577.5,415 576.66,413.07 576.25,411 575.08,409.16 575.01,406.9 574,405 573.23,402.98 571.87,401.34 570.42,399.76 569.4,397.9 569.45,396.4 570,395 569.52,393.08 568.75,391.25 568.01,389.33 567.41,387.34"/>
<polygon fill="#efedf5" stroke="#555" stroke-width="0.7" stroke-linejoin="round" points="580,430.6 580.29,432.22 581.3,433.52 581.9,435 582.59,436.99 583.75,438.75 583.74,440.87 585.6,441.9 587.5,441.69 589.4,441.9 590.9,442.06 592.41,442.21 593.75,443 595.17,443.73 596.78,444.05 598.1,445 598.76,446.99 600.6,448 601.51,449.15 601.25,450.6 600.7,452.37 600.28,454.17 600,456 599.58,458.02 599,460 597.63,461.03 596.54,462.33 595.6,463.75 595.63,465.88 597.5,466.9 595.41,467.78 595,470 593.94,471.82 593.1,473.75 591.49,474.93 590,476.25 589.25,477.75 590.6,478.75 591.9,479.97 593.02,481.36 594.4,482.5 593.33,483.69 591.9,484.4 589.74,484.5 588.1,483.1 586.92,484.25 586.08,485.67 585,486.9 582.86,486.48 581.25,485 580.05,483.96 579.4,482.5 578.27,481.45 577.31,480.15 575.6,480 576.53,478.65 578.2,477.92 578.75,476.25 577.41,475.44 576.25,474.4 575.8,472.87 575.62,471.21 574.4,470 575.95,469.44 577.5,470 578.78,471.52 578.83,473.79 580.6,475 582.51,475.22 584.4,475.6 584.45,473.84 585.6,472.5 583.62,471.16 584.03,468.49 582.5,466.9 581.34,465.67 580.18,464.43 578.75,463.5 579.15,461.66 579.51,459.82 580,458 579.91,456.15 580.28,454.25 579.1,452.49 579.4,450.6 577.58,449.94 577.5,448 575.72,446.92 573.75,446.25 571.87,445.84 570.6,444.4 570.82,442.51 569.4,441.25 571.25,440.6 571.9,438.75 573.34,437.48 573.75,435.6 574.24,434 576.03,433.71 576.9,432.5 577.99,430.8"/>
<polygon fill="#efedf5" stroke="#555" stroke-width="0.7" stroke-linejoin="round" points="608.1,448.1 610,449.5 610.6,452 609.6,454.6 608.1,455.7 606.4,454.4 605.6,452 606.4,449.5"/>
<polygon fill="#fff" stroke="#555" stroke-width="0.7" stroke-linejoin="round" points="567,428.3 568.6,428.6 568.4,430 566.9,429.8"/>
<polygon fill="#fff" stroke="#555" stroke-width="0.7" stroke-linejoin="round" points="236.9,543.75 237.5,545.6 236.21,546.74 234.58,547.29 233.1,548.1 232.21,549.7 231.25,551.25 232.01,553.2 233.1,555 234.67,554.66 236.25,554.4 237.61,555.06 238.81,555.97 240,556.9 241.73,557.83 243.33,558.98 245,560 246.69,560.78 248.47,561.38 250,562.5 250.7,563.88 250.88,565.38 251,566.9 250.9,568.89 249.93,570.63 249.4,572.5 248.19,574.07 247.29,575.83 246.25,577.5 244.74,578.56 243.1,579.4 242.81,580.65 242.5,581.9 241.46,580.67 240,580 238.61,581.11 237.5,582.5 236.36,580.77 236.05,578.67 235,576.9 233.95,575.87 233.19,574.54 231.9,573.75 231.63,571.95 230.49,570.47 230,568.75 230.06,567.08 229.59,565.43 229.75,563.75 230.22,562.08 230.8,560.43 231.25,558.75 230.89,557.07 230,555.6 229.03,554.46 228.34,553.13 227.5,551.9 228.62,550.37 228.88,548.42 230,546.9 231.88,545.96 233.75,545 235.49,544.78"/>
<polygon fill="#fff" stroke="#555" stroke-width="0.7" stroke-linejoin="round" points="238.75,595.4 239.56,596.56 240,597.9 241.36,598.56 242.53,599.53 243.75,600.4 245.47,600.15 247.07,600.88 248.75,601 249.92,602.33 251.25,603.5 252.1,605.3 252.5,607.25 251.65,608.81 251.58,610.56 251.25,612.25 249.87,613.15 248.56,614.12 247.5,615.4 245.97,616.8 244.23,617.89 242.5,619 240.76,620.2 239.16,621.6 237.5,622.9 236.25,623.83 235,624.75 234.11,623.76 233.1,622.9 231.78,622.04 230.6,621 229.88,619.53 230,617.9 228.26,616.68 226.25,616 226.31,614.45 226.25,612.9 227.65,611.88 228.46,610.39 229.4,609 230.75,608.03 232.19,607.21 233.75,606.6 235.32,605.61 236.25,604 236.6,601.88 236.9,599.75 237.3,598.21 238,596.79"/>
<polygon fill="#fff" stroke="#555" stroke-width="0.7" stroke-linejoin="round" points="263.1,616.6 263.5,617.72 264.4,618.5 264.25,620.41 263.75,622.25 263.04,623.46 262.5,624.75 263.75,624.38 265,624 266.59,623.97 268.1,623.5 266.71,624.61 265.28,625.68 263.75,626.6 264.02,627.82 264.4,629 263.18,630.03 261.9,631 260.32,630.92 258.75,631 257.39,631.14 256.25,630.4 255.09,631.44 253.75,632.25 252.32,631.18 251.25,629.75 252.49,628.17 253.75,626.6 254.55,625.35 255.04,623.88 256.25,622.9 257.43,621.71 258.37,620.32 259.4,619 260.39,617.76 261.9,617.25"/>
<g font-family="Liberation Sans, Arial, sans-serif" font-size="9.9" fill="#111" stroke="#111" stroke-width="0.15" text-anchor="middle">
<rect x="351.36" y="218.50" width="77.88" height="11.8" fill="#fff" stroke="none"/>
<text x="390.30" y="227.15">Hauts-de-France</text>
<rect x="286.99" y="251.80" width="52.02" height="11.8" fill="#fff" stroke="none"/>
<text x="313.00" y="260.45">Normandie</text>
<rect x="350.46" y="267.30" width="62.47" height="11.8" fill="#fff" stroke="none"/>
<text x="381.70" y="275.95">Île-de-France</text>
<rect x="441.91" y="268.00" width="48.17" height="11.8" fill="#fff" stroke="none"/>
<text x="466.00" y="276.65">Grand Est</text>
<rect x="191.86" y="281.90" width="43.78" height="11.8" fill="#fff" stroke="none"/>
<text x="213.75" y="290.55">Bretagne</text>
<rect x="310.74" y="313.90" width="88.71" height="11.8" fill="#fff" stroke="none"/>
<text x="355.10" y="322.55">Centre-Val de Loire</text>
<rect x="247.10" y="316.10" width="74.59" height="11.8" fill="#fff" stroke="none"/>
<text x="284.40" y="324.75">Pays de la Loire</text>
<rect x="387.75" y="327.60" width="124.11" height="11.8" fill="#fff" stroke="none"/>
<text x="449.80" y="336.25">Bourgogne-Franche-Comté</text>
<rect x="268.55" y="417.10" width="86.70" height="11.8" fill="#fff" stroke="none"/>
<text x="311.90" y="425.75">Nouvelle-Aquitaine</text>
<rect x="382.45" y="405.90" width="106.51" height="11.8" fill="#fff" stroke="none"/>
<text x="435.70" y="414.55">Auvergne-Rhône-Alpes</text>
<rect x="342.57" y="477.00" width="44.87" height="11.8" fill="#fff" stroke="none"/>
<text x="365.00" y="485.65">Occitanie</text>
<rect x="427.15" y="480.35" width="128.19" height="11.8" fill="#fff" stroke="none"/>
<text x="491.25" y="489.00">Provence-Alpes-Côte d'Azur</text>
<rect x="570.86" y="255.70" width="38.27" height="11.8" fill="#fff" stroke="none"/>
<text x="590.00" y="264.35">Guyane</text>
<rect x="554.78" y="310.80" width="54.24" height="11.8" fill="#fff" stroke="none"/>
<text x="581.90" y="319.45">La Réunion</text>
<rect x="552.33" y="346.40" width="57.54" height="11.8" fill="#fff" stroke="none"/>
<text x="581.10" y="355.05">Guadeloupe</text>
<rect x="562.89" y="399.10" width="49.82" height="11.8" fill="#fff" stroke="none"/>
<text x="587.80" y="407.75">Martinique</text>
<rect x="566.39" y="451.40" width="38.82" height="11.8" fill="#fff" stroke="none"/>
<text x="585.80" y="460.05">Mayotte</text>
<rect x="572.00" y="546.00" width="30.01" height="11.8" fill="#fff" stroke="none"/>
<text x="587.00" y="554.65">Corse</text>
<text x="238.5" y="592.3" font-size="9.9">Saint-Pierre-et-Miquelon</text>
</g>
<g font-family="Liberation Sans, Arial, sans-serif" fill="#111" stroke="#111" stroke-width="0.12">
<text x="30.5" y="410.5" font-size="10.6">Nombre de PH pour 100 000 hab.</text>
<rect x="28.7" y="421.3" width="12.4" height="12.4" fill="#efedf5" stroke="#d2d2da" stroke-width="0.6"/>
<text x="50" y="431.2" font-size="8.6">[27,3 - 51,9[</text>
<rect x="28.7" y="441.55" width="12.4" height="12.4" fill="#c3b4e0" stroke="#b3a4d2" stroke-width="0.6"/>
<text x="50" y="451.45" font-size="8.6">[51,9 - 69,0[</text>
<rect x="28.7" y="461.8" width="12.4" height="12.4" fill="#9f82cb" stroke="#8f72bd" stroke-width="0.6"/>
<text x="50" y="471.7" font-size="8.6">[69,0 - 75,9[</text>
<rect x="28.7" y="482.05" width="12.4" height="12.4" fill="#855cb5" stroke="#754da7" stroke-width="0.6"/>
<text x="50" y="491.95" font-size="8.6">[75,9 - 80,0[</text>
<rect x="28.7" y="502.3" width="12.4" height="12.4" fill="#6f3f9e" stroke="#5f3290" stroke-width="0.6"/>
<text x="50" y="512.2" font-size="8.6">[80,0 - 86,6]</text>
</g>
<g transform="translate(30.4,626.2)">
<polygon points="12.52,-12.52 0,-5.6 0,0" fill="#fff" stroke="#000" stroke-width="0.6"/>
<polygon points="12.52,-12.52 5.6,-0 0,0" fill="#000" stroke="#000" stroke-width="0.6"/>
<polygon points="12.52,12.52 5.6,-0 0,0" fill="#fff" stroke="#000" stroke-width="0.6"/>
<polygon points="12.52,12.52 0,5.6 0,0" fill="#000" stroke="#000" stroke-width="0.6"/>
<polygon points="-12.52,12.52 0,5.6 0,0" fill="#fff" stroke="#000" stroke-width="0.6"/>
<polygon points="-12.52,12.52 -5.6,0 0,0" fill="#000" stroke="#000" stroke-width="0.6"/>
<polygon points="-12.52,-12.52 -5.6,0 0,0" fill="#fff" stroke="#000" stroke-width="0.6"/>
<polygon points="-12.52,-12.52 -0,-5.6 0,0" fill="#000" stroke="#000" stroke-width="0.6"/>
<polygon points="0,-21.7 -4.31,-4.31 0,0" fill="#fff" stroke="#000" stroke-width="0.5"/>
<polygon points="0,-21.7 4.31,-4.31 0,0" fill="#000" stroke="#000" stroke-width="0.5"/>
<polygon points="21.7,-0 4.31,-4.31 0,0" fill="#fff" stroke="#000" stroke-width="0.5"/>
<polygon points="21.7,-0 4.31,4.31 0,0" fill="#000" stroke="#000" stroke-width="0.5"/>
<polygon points="0,21.7 4.31,4.31 0,0" fill="#fff" stroke="#000" stroke-width="0.5"/>
<polygon points="0,21.7 -4.31,4.31 0,0" fill="#000" stroke="#000" stroke-width="0.5"/>
<polygon points="-21.7,0 -4.31,4.31 0,0" fill="#fff" stroke="#000" stroke-width="0.5"/>
<polygon points="-21.7,0 -4.31,-4.31 0,0" fill="#000" stroke="#000" stroke-width="0.5"/>
</g>
<text x="30.4" y="600.4" font-family="Liberation Sans, Arial, sans-serif" font-size="8.4" text-anchor="middle" fill="#111">N</text>
<rect x="79.5" y="650" width="46" height="3.6" fill="#000"/>
<rect x="125.5" y="650.3" width="45.5" height="3" fill="#fff" stroke="#555" stroke-width="0.6"/>
<g font-family="Liberation Sans, Arial, sans-serif" font-size="8.8" fill="#111"><text x="79.5" y="646.3" text-anchor="middle">0</text><text x="125" y="646.3" text-anchor="middle">118</text><text x="163.7" y="646.3">235 km</text></g>
</svg>
<div class="txt">
<div>Le CNG comptabilise <b>73,2 PH</b></div>
<div>pour <span class="nb">100 000</span> habitants au 1<sup>er</sup></div>
<div>janvier 2025, contre 71,0 PH</div>
<div>pour <span class="nb">100 000</span> habitants un an</div>
<div style="word-spacing:-0.55px">auparavant (au 1<sup>er</sup> janvier 2024),</div>
<div>ce qui représente une</div>
<div>augmentation de <b>2,2 PH</b> pour</div>
<div class="l">100 000 habitants.</div>
<div class="l">&nbsp;</div>
<div>Pour rappel, la densité était de</div>
<div>68,8 PH pour <span class="nb">100 000</span> habitants</div>
<div>en 2023, 67,1 PH pour <span class="nb">100 000</span></div>
<div>habitants au 1<sup>er</sup> janvier 2022, de</div>
<div class="l">66,9 en 2021 et 67,1 en 2020.</div>
</div>
<div class="shadow"></div>
</body></html>
